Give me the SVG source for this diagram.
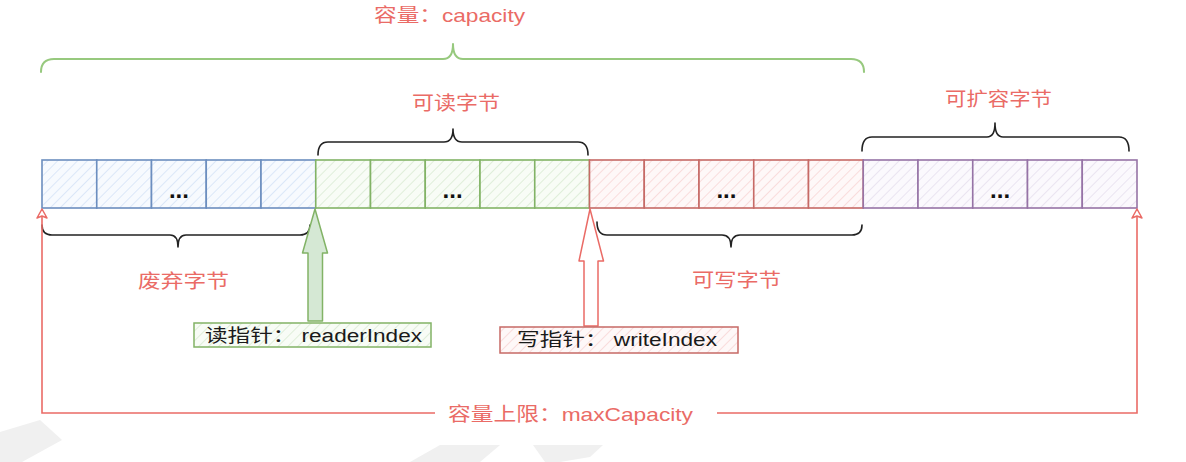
<svg xmlns="http://www.w3.org/2000/svg" width="1186" height="462" viewBox="0 0 1186 462">
<style>
.t{font-family:"Liberation Sans","Noto Sans CJK SC",sans-serif;font-size:19px;fill:#EA6B66;}
.lb{font-family:"Liberation Sans","Noto Sans CJK SC",sans-serif;font-size:18px;fill:#1a1a1a;}
.dots{font-family:"Liberation Sans",sans-serif;font-size:24px;font-weight:bold;fill:#111;text-anchor:middle;}
.brace{fill:none;stroke:#222;stroke-width:1.6;stroke-linecap:round;stroke-linejoin:round;}
.cb{stroke-width:1.6;}
.blue{stroke:#6C8EBF;fill:url(#hb);}
.green{stroke:#82B366;fill:url(#hg);}
.red{stroke:#C66A66;fill:url(#hr);}
.purple{stroke:#9673A6;fill:url(#hp);}
</style>
<defs>
<pattern id="hb" patternUnits="userSpaceOnUse" width="7" height="7" patternTransform="rotate(45)"><rect width="7" height="7" fill="#F7FAFE"/><line x1="0" y1="0" x2="0" y2="7" stroke="#C9DAF4" stroke-width="1.2"/></pattern>
<pattern id="hg" patternUnits="userSpaceOnUse" width="7" height="7" patternTransform="rotate(45)"><rect width="7" height="7" fill="#F8FCF6"/><line x1="0" y1="0" x2="0" y2="7" stroke="#CFE6C8" stroke-width="1.2"/></pattern>
<pattern id="hr" patternUnits="userSpaceOnUse" width="7" height="7" patternTransform="rotate(45)"><rect width="7" height="7" fill="#FEF8F8"/><line x1="0" y1="0" x2="0" y2="7" stroke="#F6CACA" stroke-width="1.2"/></pattern>
<pattern id="hp" patternUnits="userSpaceOnUse" width="7" height="7" patternTransform="rotate(45)"><rect width="7" height="7" fill="#FBF9FD"/><line x1="0" y1="0" x2="0" y2="7" stroke="#E0D6EA" stroke-width="1.2"/></pattern>
<marker id="ah" markerWidth="14" markerHeight="14" refX="12" refY="7" orient="auto-start-reverse" markerUnits="userSpaceOnUse" viewBox="0 0 14 14">
<path d="M12,7 L3,2 L5,7 L3,12 Z" fill="#fff" stroke="#EA6B66" stroke-width="1.5" stroke-linejoin="round"/>
</marker>
</defs>
<rect width="1186" height="462" fill="#ffffff"/>
<g id="watermark" fill="#F0F0F0">
<polygon points="0,432 40,420 62,440 22,462 0,462"/>
<polygon points="410,462 440,445 500,445 480,462"/>
<polygon points="533,445 603,445 590,457 560,462 545,462"/>
</g>
<g id="cells-discarded">
<rect class="cb blue" x="42" y="160" width="54.75" height="48"/>
<rect class="cb blue" x="96.75" y="160" width="54.75" height="48"/>
<rect class="cb blue" x="151.5" y="160" width="54.75" height="48"/>
<rect class="cb blue" x="206.25" y="160" width="54.75" height="48"/>
<rect class="cb blue" x="261" y="160" width="54.75" height="48"/>
<text class="dots" x="178.9" y="198">...</text>
</g>
<g id="cells-readable">
<rect class="cb green" x="315.75" y="160" width="54.75" height="48"/>
<rect class="cb green" x="370.5" y="160" width="54.75" height="48"/>
<rect class="cb green" x="425.25" y="160" width="54.75" height="48"/>
<rect class="cb green" x="480" y="160" width="54.75" height="48"/>
<rect class="cb green" x="534.75" y="160" width="54.75" height="48"/>
<text class="dots" x="452.6" y="198">...</text>
</g>
<g id="cells-writable">
<rect class="cb red" x="589.5" y="160" width="54.75" height="48"/>
<rect class="cb red" x="644.25" y="160" width="54.75" height="48"/>
<rect class="cb red" x="699" y="160" width="54.75" height="48"/>
<rect class="cb red" x="753.75" y="160" width="54.75" height="48"/>
<rect class="cb red" x="808.5" y="160" width="54.75" height="48"/>
<text class="dots" x="726.4" y="198">...</text>
</g>
<g id="cells-expandable">
<rect class="cb purple" x="863.25" y="160" width="54.75" height="48"/>
<rect class="cb purple" x="918" y="160" width="54.75" height="48"/>
<rect class="cb purple" x="972.75" y="160" width="54.75" height="48"/>
<rect class="cb purple" x="1027.5" y="160" width="54.75" height="48"/>
<rect class="cb purple" x="1082.25" y="160" width="54.75" height="48"/>
<text class="dots" x="1000.1" y="198">...</text>
</g>
<g id="connectors">
<path class="brace" style="stroke:#97C97E;stroke-width:2" d="M41,72 Q41,59 54,59 L443,59 Q453,59 453,44 Q453,59 463,59 L851,59 Q864,59 864,72"/>
<path class="brace" d="M318,155 Q318,142 328,142 L444,142 Q453,142 453,129 Q453,142 462,142 L578,142 Q588,142 588,155"/>
<path class="brace" d="M862,151 Q862,137 872,137 L987,137 Q995,137 995,123 Q995,137 1003,137 L1119,137 Q1129,137 1129,151"/>
<path class="brace" d="M42,225 Q42,235 52,235 L170,235 Q178,235 178,247 Q178,235 186,235 L300,235 Q310,235 310,225"/>
<path class="brace" d="M597,222 Q597,235 607,235 L722,235 Q731,235 731,247 Q731,235 740,235 L852,235 Q862,235 862,225"/>
<path d="M42,209 V413 H435" fill="none" stroke="#EA6B66" stroke-width="1.6" marker-start="url(#ah)"/>
<path d="M717,413 H1137 V209" fill="none" stroke="#EA6B66" stroke-width="1.6" marker-end="url(#ah)"/>
</g>
<g id="reader-arrow">
<polygon points="315,209 327.5,253 322.5,253 322.5,321 308,321 308,253 302.5,253" fill="#D5E8D4" stroke="#82B366" stroke-width="1.5" stroke-linejoin="round"/>
</g>
<g id="writer-arrow">
<polygon points="590,209 603.5,261 598,261 598,326 584,326 584,261 579,261" fill="#ffffff" stroke="#EA6B66" stroke-width="1.5" stroke-linejoin="round"/>
</g>
<g id="label-capacity"><text class="t" x="374" y="22" textLength="151" lengthAdjust="spacingAndGlyphs">容量：capacity</text></g>
<g id="label-readable"><text class="t" x="412" y="110" textLength="88" lengthAdjust="spacingAndGlyphs">可读字节</text></g>
<g id="label-expandable"><text class="t" x="945" y="106" textLength="107" lengthAdjust="spacingAndGlyphs">可扩容字节</text></g>
<g id="label-discarded"><text class="t" x="138" y="288" textLength="91" lengthAdjust="spacingAndGlyphs">废弃字节</text></g>
<g id="label-writable"><text class="t" x="692" y="287" textLength="89" lengthAdjust="spacingAndGlyphs">可写字节</text></g>
<g id="label-maxcapacity"><text class="t" x="448" y="421" textLength="245" lengthAdjust="spacingAndGlyphs">容量上限：maxCapacity</text></g>
<g id="reader-index">
<rect x="194" y="323" width="237" height="24" fill="url(#hg)" stroke="#82B366" stroke-width="1.5"/>
<text class="lb" x="205" y="342" textLength="217" lengthAdjust="spacingAndGlyphs">读指针：  readerIndex</text>
</g>
<g id="writer-index">
<rect x="500" y="327" width="238" height="26" fill="url(#hr)" stroke="#C66A66" stroke-width="1.5"/>
<text class="lb" x="517" y="346" textLength="200" lengthAdjust="spacingAndGlyphs">写指针：  writeIndex</text>
</g>
</svg>
